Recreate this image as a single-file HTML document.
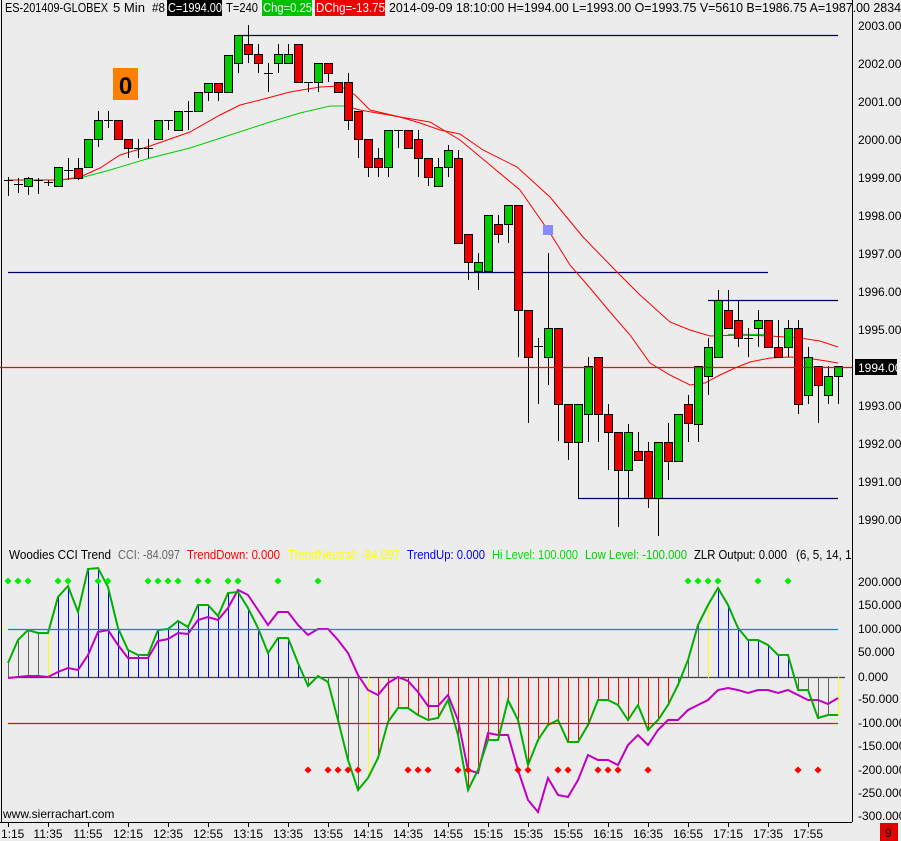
<!DOCTYPE html>
<html><head><meta charset="utf-8"><style>
body{margin:0;background:#ececec;width:901px;height:841px;overflow:hidden;font-family:"Liberation Sans",sans-serif}
svg{position:absolute;left:0;top:0}
</style></head><body>
<svg id="s" width="901" height="841" xmlns="http://www.w3.org/2000/svg" font-family="Liberation Sans, sans-serif" font-size="12">
<rect width="901" height="841" fill="#ececec"/>
<rect x="852" y="0" width="1" height="822" fill="#000"/>
<rect x="0" y="822" width="852" height="1" fill="#000"/>
<rect x="1" y="0" width="1" height="822" fill="#000"/>
<g id="lines"></g>
<g id="cc"></g>
<g id="top"></g>
<!-- header -->
<rect x="167" y="0" width="55" height="16" fill="#000"/>
<rect x="262" y="0" width="50" height="16" fill="#00c000"/>
<rect x="315" y="0" width="70" height="16" fill="#f00000"/>
<g font-size="13">
<text x="5" y="12" fill="#000" textLength="103" lengthAdjust="spacingAndGlyphs">ES-201409-GLOBEX</text>
<text x="113" y="12" fill="#000" textLength="32" lengthAdjust="spacingAndGlyphs">5 Min</text>
<text x="152" y="12" fill="#000" textLength="13" lengthAdjust="spacingAndGlyphs">#8</text>
<text x="168" y="12" fill="#fff" textLength="54" lengthAdjust="spacingAndGlyphs">C=1994.00</text>
<text x="226" y="12" fill="#000" textLength="32" lengthAdjust="spacingAndGlyphs">T=240</text>
<text x="263" y="12" fill="#fff" textLength="49" lengthAdjust="spacingAndGlyphs">Chg=0.25</text>
<text x="316" y="12" fill="#fff" textLength="69" lengthAdjust="spacingAndGlyphs">DChg=-13.75</text>
<text x="389" y="12" fill="#000" textLength="512" lengthAdjust="spacingAndGlyphs">2014-09-09 18:10:00 H=1994.00 L=1993.00 O=1993.75 V=5610 B=1986.75 A=1987.00 2834</text>
</g>
<rect x="113" y="68" width="25" height="32" fill="#ff8000"/>
<text x="125.5" y="94" font-size="24" font-weight="bold" text-anchor="middle" fill="#000">0</text>
<rect x="543" y="225" width="10" height="10" fill="#8888ff"/>
<g fill="#000" font-size="12">
<text x="858" y="30">2003.00</text><text x="858" y="68">2002.00</text><text x="858" y="106">2001.00</text><text x="858" y="144">2000.00</text><text x="858" y="182">1999.00</text><text x="858" y="220">1998.00</text><text x="858" y="258">1997.00</text><text x="858" y="296">1996.00</text><text x="858" y="334">1995.00</text><text x="858" y="410">1993.00</text><text x="858" y="448">1992.00</text><text x="858" y="486">1991.00</text><text x="858" y="524">1990.00</text>
</g>
<rect x="855" y="359" width="42" height="16" fill="#000"/>
<text x="858" y="372" fill="#fff">1994.00</text>
<g font-size="13">
<text x="9" y="559" fill="#000" textLength="102" lengthAdjust="spacingAndGlyphs">Woodies CCI Trend</text>
<text x="118" y="559" fill="#666" textLength="62" lengthAdjust="spacingAndGlyphs">CCI: -84.097</text>
<text x="187" y="559" fill="#f00" textLength="93" lengthAdjust="spacingAndGlyphs">TrendDown: 0.000</text>
<text x="288" y="559" fill="#ffff00" textLength="112" lengthAdjust="spacingAndGlyphs">TrendNeutral: -84.097</text>
<text x="407" y="559" fill="#00f" textLength="78" lengthAdjust="spacingAndGlyphs">TrendUp: 0.000</text>
<text x="492" y="559" fill="#00e000" textLength="86" lengthAdjust="spacingAndGlyphs">Hi Level: 100.000</text>
<text x="585" y="559" fill="#00d000" textLength="102" lengthAdjust="spacingAndGlyphs">Low Level: -100.000</text>
<text x="694" y="559" fill="#000" textLength="93" lengthAdjust="spacingAndGlyphs">ZLR Output: 0.000</text>
<text x="796" y="559" fill="#000" textLength="62" lengthAdjust="spacingAndGlyphs">(6, 5, 14, 10</text>
</g>
<rect x="853" y="545" width="48" height="20" fill="#ececec"/>
<g fill="#000" font-size="12">
<text x="858" y="586">200.000</text>
</g>
<g id="cciax" fill="#000" font-size="12"></g>
<text x="3" y="818" font-size="12" fill="#000">www.sierrachart.com</text>
<g id="tax" fill="#000" font-size="12"></g>
<rect x="880" y="823" width="18" height="18" fill="#e00000"/>
<text x="885" y="837" fill="#000" font-size="12">9</text>
</svg>
<script>
var NS="http://www.w3.org/2000/svg";
function el(p,t,a){var e=document.createElementNS(NS,t);for(var k in a)e.setAttribute(k,a[k]);p.appendChild(e);return e;}
var L=document.getElementById('lines'),C=document.getElementById('cc'),T=document.getElementById('top');
var cax=document.getElementById('cciax');
var cl=[["150.000",605],["100.000",629],["50.000",652],["0.000",677],["-50.000",699],["-100.000",723],["-150.000",746],["-200.000",770],["-250.000",793],["-300.000",816]];
cl.forEach(function(c){var t=el(cax,'text',{x:858,y:c[1]+4});t.textContent=c[0];});
var tax=document.getElementById('tax');
for(var i=0;i<=20;i++){var x=8+40*i;var m=11*60+15+20*i;var h=Math.floor(m/60),mm=m%60;var s=h+":"+(mm<10?"0":"")+mm;if(i==0)s="1:15";
el(tax,'rect',{x:x,y:822,width:1,height:5,fill:'#000'});var t=el(tax,'text',{x:x,y:838,'text-anchor':i==0?'start':'middle'});if(i==0)t.setAttribute('x',1);t.textContent=s;}
function hl(x1,x2,y,c,g){el(g||L,'line',{x1:x1,y1:y+0.5,x2:x2,y2:y+0.5,stroke:c,'stroke-width':1.2});}
hl(238,838,35,'#000060');hl(8,768,272,'#000060');hl(708,838,300,'#000060');hl(578,838,498,'#000060');
hl(728,768,334,'#00e000');
function pl(pts,c,w){el(L,'polyline',{points:pts,fill:'none',stroke:c,'stroke-width':w||1});}
pl("8,180 60,180 80,178 110,170 150,158 190,148 230,135 270,122 300,113 330,106 345,106",'#00d000');
pl("345,106 360,110 400,117 420,123 440,130 460,134 483,150 517,167 550,197 583,237 617,272 640,295 670,322 690,330 710,336 740,335 770,336 800,338 820,341 838,347",'#ff0000');
pl("8,180 60,180 80,177 100,168 120,155 150,146 190,132 220,115 240,105 260,100 290,92 320,87 340,86 355,95 370,110 400,117 430,122 460,140 490,165 520,190 550,233 570,265 590,288 610,312 630,335 650,363 670,375 690,385 705,383 720,375 735,368 750,362 770,358 790,357 805,358 820,360 838,363",'#ff0000');
var K=[[180,181,177,196,'c'],[184,185,178,193,'c'],[178,186,177,195,'g'],[180,181,178,194,'c'],[182,183,180,186,'c'],[167,186,167,186,'g'],[170,171,158,180,'c'],[168,178,158,180,'r'],[139,167,139,167,'g'],[120,139,111,147,'g'],[120,121,111,128,'c'],[120,139,120,139,'r'],[139,148,139,158,'r'],[148,149,139,158,'c'],[148,149,139,158,'c'],[120,139,120,139,'g'],[120,121,120,130,'c'],[111,130,111,130,'g'],[111,112,101,130,'c'],[92,111,92,111,'g'],[83,92,83,101,'g'],[83,92,83,101,'r'],[55,92,55,92,'g'],[35,63,35,73,'g'],[44,54,25,63,'r'],[54,63,44,73,'r'],[73,74,63,92,'c'],[54,63,44,73,'g'],[54,63,44,63,'g'],[44,82,44,82,'r'],[82,83,82,92,'c'],[63,82,63,92,'g'],[63,73,63,82,'r'],[82,92,82,92,'r'],[82,120,73,130,'r'],[111,139,111,158,'r'],[139,167,139,177,'r'],[158,167,148,177,'r'],[130,167,130,177,'g'],[130,131,130,148,'c'],[130,148,130,148,'r'],[139,158,130,177,'r'],[158,177,158,186,'r'],[167,186,158,186,'g'],[150,167,145,177,'g'],[158,243,150,243,'r'],[234,262,234,280,'r'],[262,271,253,290,'g'],[215,271,215,271,'g'],[224,234,215,243,'r'],[205,224,205,243,'g'],[205,310,205,357,'r'],[310,357,310,423,'r'],[346,347,338,404,'c'],[328,357,253,385,'g'],[328,404,328,441,'r'],[404,442,404,460,'r'],[404,442,404,498,'g'],[366,414,357,442,'g'],[357,414,357,442,'r'],[414,432,404,470,'r'],[432,470,432,527,'r'],[432,470,424,498,'g'],[451,460,432,460,'r'],[451,498,442,508,'r'],[442,498,442,536,'g'],[442,461,423,480,'r'],[414,461,414,461,'g'],[404,423,395,442,'r'],[366,424,366,442,'g'],[347,376,338,395,'g'],[300,357,290,357,'g'],[310,328,290,328,'r'],[320,338,300,347,'r'],[338,339,328,357,'c'],[320,328,310,347,'g'],[320,347,320,347,'r'],[347,357,320,357,'r'],[328,347,320,357,'g'],[328,404,320,414,'r'],[357,395,347,404,'g'],[366,385,366,423,'r'],[376,395,366,404,'g'],[366,376,366,404,'g']];
K.forEach(function(k,i){var x=8+10*i;el(C,'rect',{x:x,y:k[2],width:1,height:k[3]-k[2],fill:'#000'});
if(k[4]=='c'){el(C,'rect',{x:x-4,y:k[0],width:9,height:1,fill:'#000'});}
else el(C,'rect',{x:x-3.5,y:k[0]+.5,width:8,height:k[1]-k[0],fill:k[4]=='g'?'#00cc00':'#ee0000',stroke:'#000'});});
hl(0,852,367,'#ff0000',T);
var G=[663,640,630,633,633,597,586,612,569,568,587,628,650,655,655,630,629,621,627,605,605,616,593,592,608,628,653,638,638,663,686,676,682,720,760,790,778,758,722,708,708,715,720,718,700,735,790,770,740,740,700,720,765,740,725,720,742,742,725,700,700,705,720,705,730,720,705,685,660,625,605,588,605,628,640,640,645,655,655,690,690,718,715,715];
var M=[678,677,676,676,677,672,668,670,655,632,630,645,658,658,658,641,639,633,634,620,617,620,608,590,595,610,625,612,612,625,635,629,629,640,653,675,690,695,683,677,681,692,706,706,695,720,770,773,733,735,735,770,800,812,778,795,797,780,755,760,760,765,745,735,745,730,720,720,710,705,700,690,688,690,693,690,690,693,690,695,700,700,704,698];
function hc(i){if(i<4)return'#606060';if(i==4)return'#ffff00';if(i<30)return'#0000ff';if(i<36)return'#606060';if(i==36)return'#ffff00';if(i<67)return'#ff0000';if(i<70)return'#606060';if(i==70)return'#ffff00';if(i<79)return'#0000ff';if(i<83)return'#606060';return'#ffff00';}
hl(8,845,677,'#404040');
G.forEach(function(g,i){var x=8+10*i;el(L,'rect',{x:x,y:Math.min(g,677),width:1,height:Math.abs(g-677)+1,fill:hc(i)});});
hl(8,838,629,'#0080ff',T);hl(8,838,723,'#ff0000',T);
pl(M.map(function(v,i){return(8+10*i)+","+v}).join(" "),'#c000c0',2);
pl(G.map(function(v,i){return(8+10*i)+","+v}).join(" "),'#00b000',2);
[8,18,28,58,68,98,108,148,158,168,178,198,208,228,238,278,318,688,698,708,718,758,788].forEach(function(x){el(L,'rect',{x:x-2.5,y:578.5,width:5,height:5,fill:'#00ee00',transform:'rotate(45 '+x+' 581)'});});
[308,328,338,348,358,408,418,428,458,468,518,528,558,568,598,608,618,648,798,818].forEach(function(x){el(L,'rect',{x:x-2.5,y:767.5,width:5,height:5,fill:'#ff0000',transform:'rotate(45 '+x+' 770)'});});
</script>
</body></html>
